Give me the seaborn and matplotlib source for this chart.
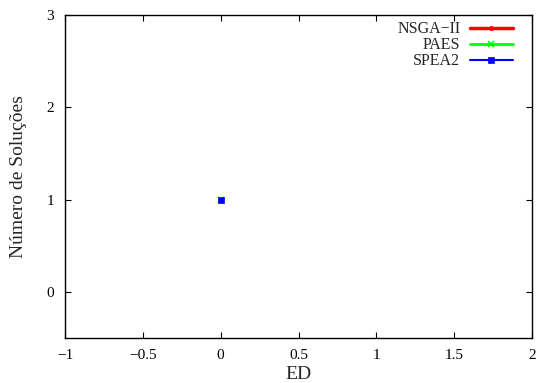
import matplotlib
matplotlib.use("Agg")
import matplotlib.pyplot as plt
import seaborn as sns
import pandas as pd

# Data: every algorithm has one solution at ED = 0
algorithms = ["NSGA\u2212II", "PAES", "SPEA2"]
ed_values = [0.0, 0.0, 0.0]
num_solutions = [1, 1, 1]
colors = ["#ff0000", "#00ff00", "#0000ff"]
markers = ["o", "x", "s"]

x_ticks = [-1, -0.5, 0, 0.5, 1, 1.5, 2]
y_ticks = [0, 1, 2, 3]

df = pd.DataFrame({"ED": ed_values, "n": num_solutions, "alg": algorithms})

sns.set_style("ticks")
plt.rcParams["font.family"] = ["Liberation Serif", "DejaVu Serif"]

fig = plt.figure(figsize=(5.39, 3.83), dpi=100)
ax = fig.add_axes([65 / 539, 45 / 383, 467 / 539, 323 / 383])

sizes = [3, 4.5, 4]
widths = [2.5, 2, 1.5]
for (alg, sub), c, m, ms, lw in zip(df.groupby("alg", sort=False), colors,
                                    markers, sizes, widths):
    sns.lineplot(data=sub, x="ED", y="n", color=c, marker=m, markersize=ms,
                 markeredgewidth=1.2 if m == "x" else 0.5,
                 markeredgecolor=c, linewidth=lw, ax=ax, label=alg)

leg = ax.legend(loc="upper right", bbox_to_anchor=(0.973, 1.0),
                frameon=False, fontsize=11.5, markerfirst=False,
                handlelength=2.7, handletextpad=0.6,
                labelspacing=0.0, borderaxespad=0.0)
for t in leg.get_texts():
    t.set_ha("right")

ax.set_xlim(-1, 2)
ax.set_ylim(-0.5, 3)
ax.set_xticks(x_ticks)
ax.set_xticklabels(["\u22121", "\u22120.5", "0", "0.5", "1", "1.5", "2"])
ax.set_yticks(y_ticks)
ax.tick_params(direction="in", top=True, right=True, length=4, width=0.8,
               labelsize=11, colors="black")
ax.tick_params(axis="x", pad=8)
ax.tick_params(axis="y", pad=8)
for s in ax.spines.values():
    s.set_linewidth(1.0)
    s.set_color("black")

ax.set_xlabel("ED", fontsize=14, labelpad=2.5)
ax.set_ylabel("Número de Soluções", fontsize=14, labelpad=14)

fig.savefig("out.png", dpi=100)
